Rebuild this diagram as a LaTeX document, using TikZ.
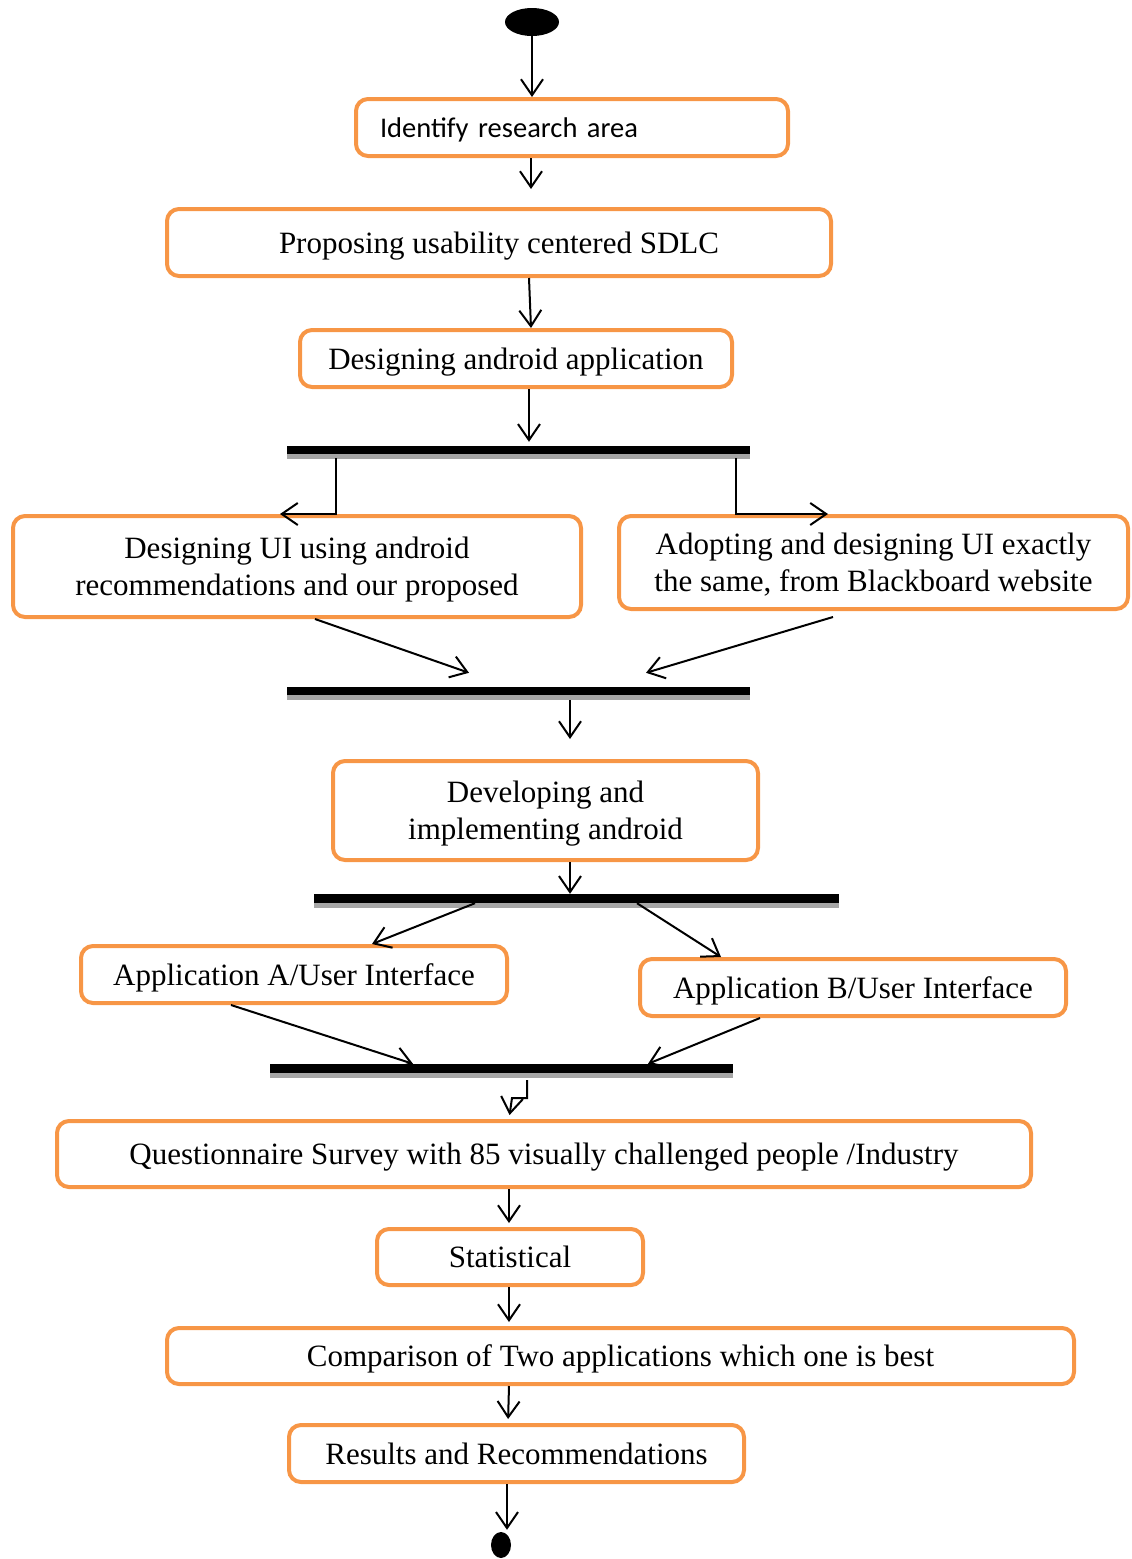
\documentclass[tikz,border=0pt]{standalone}
\usepackage{fontspec}
\setmainfont{Liberation Serif}
\newfontfamily\calibrifont{Carlito}
\usepackage{tikz}
\usetikzlibrary{arrows.meta,positioning,calc,shapes.geometric,shadows}
\usepackage{xcolor}
\definecolor{boxorange}{RGB}{247,150,70}

\begin{document}
\begin{tikzpicture}[
    x=1pt, y=-1pt,
    box/.style={rectangle, draw=boxorange, line width=4pt, rounded corners=12pt, align=center, inner sep=0pt, text depth=0pt, font=\fontsize{31}{37}\selectfont},
    bar/.style={rectangle, fill=black, inner sep=0pt, minimum height=8pt, drop shadow={shadow xshift=0pt, shadow yshift=-5pt, fill=gray!70, opacity=1}},
    dot/.style={ellipse, fill=black, inner sep=0pt},
    arr/.style={-{Straight Barb[length=16pt,width=22pt]}, line width=2pt}
]
    \useasboundingbox (0,0) rectangle (1132,1559);

    % Start and first steps
    \node[dot, minimum width=54pt, minimum height=28pt] (s0) at (532,22) {};
    \node[box, minimum height=57pt, text width=384pt, inner xsep=24pt, align=left, font=\calibrifont\fontsize{28.5}{32}\selectfont] (a1) at (572,127.5) {Identify research area};
    \node[box, minimum width=664pt, minimum height=67pt] (a2) at (499,242.5) {Proposing usability centered SDLC};
    \node[box, minimum width=432pt, minimum height=57pt] (a3) at (516,358.5) {Designing android application};

    % Fork into two UI designs
    \node[bar, minimum width=463pt] (b1) at (518.5,450) {};
    \node[box, minimum width=568pt, minimum height=101pt] (a4) at (297,566.5) {Designing UI using android\\recommendations and our proposed};
    \node[box, minimum width=509pt, minimum height=93pt] (a5) at (873.5,562.5) {Adopting and designing UI exactly\\the same, from Blackboard website};

    \draw[arr] (532,0 |- s0.south) -- (532,0 |- a1.north);
    \draw[arr, shorten >=18pt] (531,0 |- a1.south) -- (531,0 |- a2.north);
    \draw[arr] (529,0 |- a2.south) -- (531,0 |- a3.north);
    \draw[arr, shorten >=4pt] (529,0 |- a3.south) -- (529,0 |- b1.north);
    \draw[arr, shorten <=4pt] (336,0 |- b1.south) |- (280,0 |- a4.north);
    \draw[arr, shorten <=4pt] (736,0 |- b1.south) |- (828,0 |- a5.north);

    % Join and development
    \node[bar, minimum width=463pt] (b2) at (518.5,691) {};
    \node[box, minimum width=425pt, minimum height=99pt] (a6) at (545.5,810.5) {Developing and\\implementing android};

    % Fork into two applications
    \node[bar, minimum width=525pt, minimum height=9pt] (b3) at (576.5,898.5) {};
    \node[box, minimum width=426pt, minimum height=57pt] (a7) at (294,974.5) {Application A/User Interface};
    \node[box, minimum width=426pt, minimum height=57pt] (a8) at (853,987.5) {Application B/User Interface};

    \draw[arr] (315,0 |- a4.south) -- ($(469,0 |- b2.north)+(0,-14)$);
    \draw[arr] ($(833,0 |- a5.south)+(0,6)$) -- ($(646,0 |- b2.north)+(0,-14)$);
    \draw[arr, shorten <=5pt, shorten >=20pt] (570,0 |- b2.south) -- (570,0 |- a6.north);
    \draw[arr] (570,0 |- a6.south) -- (570,0 |- b3.north);
    \draw[arr] (475,0 |- b3.south) -- (372,0 |- a7.north);
    \draw[arr] (637,0 |- b3.south) -- (721,0 |- a8.north);

    % Join and evaluation
    \node[bar, minimum width=463pt, minimum height=9pt] (b4) at (501.5,1068.5) {};
    \coordinate (z1) at (512,1098);
    \node[box, minimum width=974pt, minimum height=66pt] (a9) at (544,1154) {Questionnaire Survey with 85 visually challenged people /Industry};
    \node[box, minimum width=266pt, minimum height=56pt] (a10) at (510,1257) {Statistical};
    \node[box, minimum width=907pt, minimum height=56pt] (a11) at (620.5,1356) {Comparison of Two applications which one is best};
    \node[box, minimum width=455pt, minimum height=57pt] (a12) at (516.5,1453.5) {Results and Recommendations};
    \node[dot, minimum width=20pt, minimum height=26pt] (e0) at (501,1545) {};

    \draw[arr] (231,0 |- a7.south) -- (413,0 |- b4.north);
    \draw[arr] (760,0 |- a8.south) -- (648,0 |- b4.north);
    \draw[arr, shorten <=7pt, shorten >=4pt] (527,0 |- b4.south) |- (z1) -- (509,0 |- a9.north);
    \draw[arr, shorten >=4pt] (509,0 |- a9.south) -- (509,0 |- a10.north);
    \draw[arr, shorten >=4pt] (509,0 |- a10.south) -- (509,0 |- a11.north);
    \draw[arr, shorten >=4pt] (509,0 |- a11.south) -- (508,0 |- a12.north);
    \draw[arr, shorten >=2pt] (507,0 |- a12.south) -- (507,0 |- e0.north);
\end{tikzpicture}
\end{document}
